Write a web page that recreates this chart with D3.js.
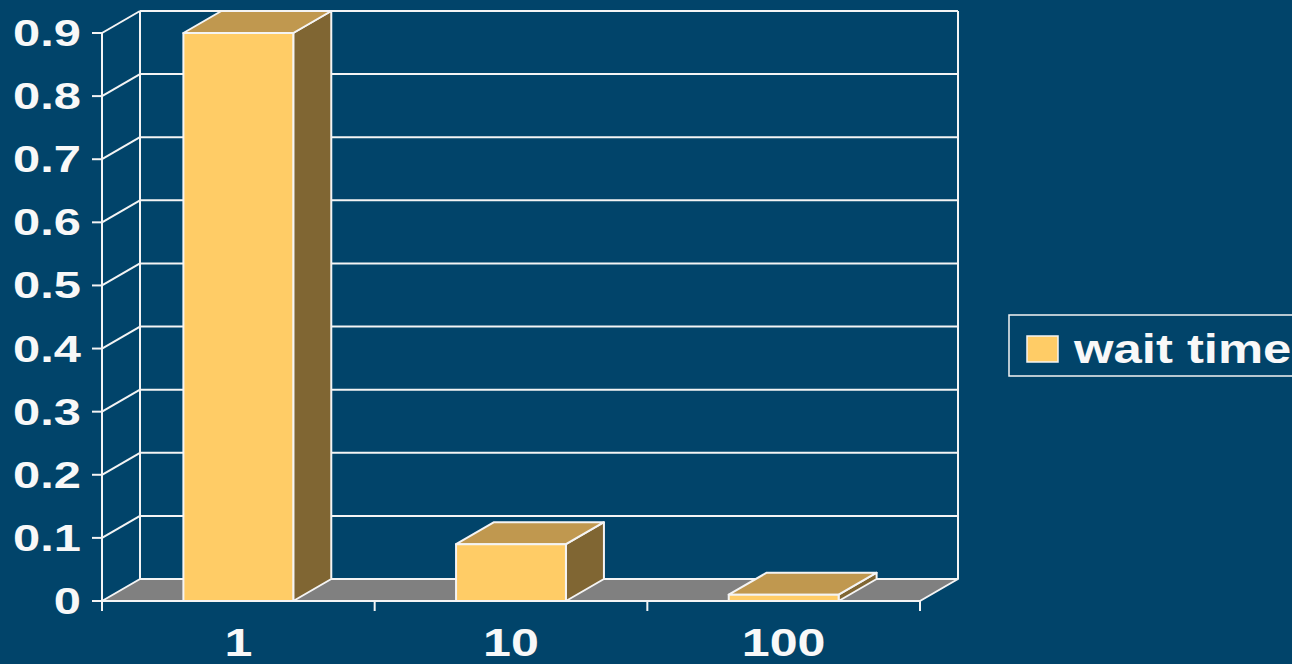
<!DOCTYPE html>
<html>
<head>
<meta charset="utf-8">
<script src="https://cdn.jsdelivr.net/npm/d3@7"></script>
<style>
  html, body { margin: 0; padding: 0; background: #01446A; }
  svg { display: block; }
  text { font-family: "Liberation Sans", Arial, sans-serif; font-weight: bold; fill: #F8F8F8; }
</style>
</head>
<body>
<svg id="chart" width="1292" height="664"></svg>
<script>
(function () {
// Data
const categories = ["1", "10", "100"];
const waitTime = [0.9, 0.09, 0.01];
const yTicks = [0, 0.1, 0.2, 0.3, 0.4, 0.5, 0.6, 0.7, 0.8, 0.9];
const seriesName = "wait time";

const W = 1292, H = 664;
const plotLeft = 102, plotRight = 920, plotBottom = 601, plotTop = 33;
const depthX = 38, depthY = -22;      // 3D offset of the back plane
const barFrac = 0.403;                // bar width relative to category band

const colors = {
  bg: "#01446A",
  front: "#FFCC66",
  top: "#C0984F",
  side: "#806633",
  floor: "#808080",
  line: "#F4F4F4"
};

const svg = d3.select("#chart");
svg.append("rect").attr("width", W).attr("height", H).attr("fill", colors.bg);

const x = d3.scaleBand().domain(categories).range([plotLeft, plotRight]).padding(0);
const y = d3.scaleLinear().domain([0, 0.9]).range([plotBottom, plotTop]);

const g = svg.append("g");
const lineAttrs = sel => sel.attr("stroke", colors.line).attr("stroke-width", 2).attr("fill", "none");

// Back wall: horizontal gridlines and frame
g.selectAll("line.grid").data(yTicks.slice(1)).join("line")
  .attr("class", "grid")
  .attr("x1", plotLeft + depthX).attr("x2", plotRight + depthX)
  .attr("y1", d => y(d) + depthY).attr("y2", d => y(d) + depthY)
  .call(lineAttrs);

g.append("line")
  .attr("x1", plotRight + depthX).attr("x2", plotRight + depthX)
  .attr("y1", y(0) + depthY).attr("y2", y(0.9) + depthY)
  .call(lineAttrs);

// Left wall: back edge and diagonals from each tick
g.append("line")
  .attr("x1", plotLeft + depthX).attr("x2", plotLeft + depthX)
  .attr("y1", y(0) + depthY).attr("y2", y(0.9) + depthY)
  .call(lineAttrs);

g.selectAll("line.diag").data(yTicks.slice(1)).join("line")
  .attr("class", "diag")
  .attr("x1", plotLeft).attr("x2", plotLeft + depthX)
  .attr("y1", d => y(d)).attr("y2", d => y(d) + depthY)
  .call(lineAttrs);

// Floor
g.append("polygon")
  .attr("points", [
    [plotLeft, y(0)], [plotRight, y(0)],
    [plotRight + depthX, y(0) + depthY], [plotLeft + depthX, y(0) + depthY]
  ].map(p => p.join(",")).join(" "))
  .attr("fill", colors.floor)
  .attr("stroke", colors.line).attr("stroke-width", 2).attr("stroke-linejoin", "round");

// Bars
const bars = g.selectAll("g.bar").data(categories.map((c, i) => ({ c, v: waitTime[i] })))
  .join("g").attr("class", "bar");

bars.each(function (d) {
  const bw = x.bandwidth() * barFrac;
  const x0 = x(d.c) + (x.bandwidth() - bw) / 2;
  const x1 = x0 + bw;
  const y0 = y(0), y1 = y(d.v);
  const sel = d3.select(this);
  const pts = arr => arr.map(p => p.join(",")).join(" ");
  const stroke = s => s.attr("stroke", colors.line).attr("stroke-width", 2).attr("stroke-linejoin", "round");
  // side
  sel.append("polygon")
    .attr("points", pts([[x1, y0], [x1 + depthX, y0 + depthY], [x1 + depthX, y1 + depthY], [x1, y1]]))
    .attr("fill", colors.side).call(stroke);
  // top
  sel.append("polygon")
    .attr("points", pts([[x0, y1], [x1, y1], [x1 + depthX, y1 + depthY], [x0 + depthX, y1 + depthY]]))
    .attr("fill", colors.top).call(stroke);
  // front
  sel.append("rect")
    .attr("x", x0).attr("y", y1).attr("width", bw).attr("height", y0 - y1)
    .attr("fill", colors.front).call(stroke);
});

// Y axis
g.append("line")
  .attr("x1", plotLeft).attr("x2", plotLeft)
  .attr("y1", y(0)).attr("y2", y(0.9))
  .call(lineAttrs);

g.selectAll("line.ytick").data(yTicks).join("line")
  .attr("class", "ytick")
  .attr("x1", plotLeft - 10).attr("x2", plotLeft)
  .attr("y1", d => y(d)).attr("y2", d => y(d))
  .call(lineAttrs);

// Wide bold labels: horizontally stretched type
g.selectAll("text.ylab").data(yTicks).join("text")
  .attr("class", "ylab")
  .attr("transform", d => `translate(81,${y(d) + 13}) scale(1.32,1)`)
  .attr("text-anchor", "end")
  .attr("font-size", 37)
  .text(d => d === 0 ? "0" : d3.format(".1f")(d));

// X axis
g.append("line")
  .attr("x1", plotLeft).attr("x2", plotRight)
  .attr("y1", y(0)).attr("y2", y(0))
  .call(lineAttrs);

const xEdges = categories.map(c => x(c)).concat([plotRight]);
g.selectAll("line.xtick").data(xEdges).join("line")
  .attr("class", "xtick")
  .attr("x1", d => d).attr("x2", d => d)
  .attr("y1", y(0)).attr("y2", y(0) + 10)
  .call(lineAttrs);

g.selectAll("text.xlab").data(categories).join("text")
  .attr("class", "xlab")
  .attr("transform", d => `translate(${x(d) + x.bandwidth() / 2},656) scale(1.32,1)`)
  .attr("text-anchor", "middle")
  .attr("font-size", 38)
  .text(d => d);

// Legend
const lg = svg.append("g");
lg.append("rect")
  .attr("x", 1009).attr("y", 315).attr("width", 300).attr("height", 61)
  .attr("fill", "none").attr("stroke", colors.line).attr("stroke-width", 1.5);
lg.append("rect")
  .attr("x", 1027).attr("y", 336).attr("width", 31).attr("height", 26)
  .attr("fill", colors.front).attr("stroke", colors.line).attr("stroke-width", 1.5);
lg.append("text")
  .attr("transform", "translate(1074,363) scale(1.27,1)")
  .attr("font-size", 40)
  .text(seriesName);
})();
</script>
</body>
</html>
